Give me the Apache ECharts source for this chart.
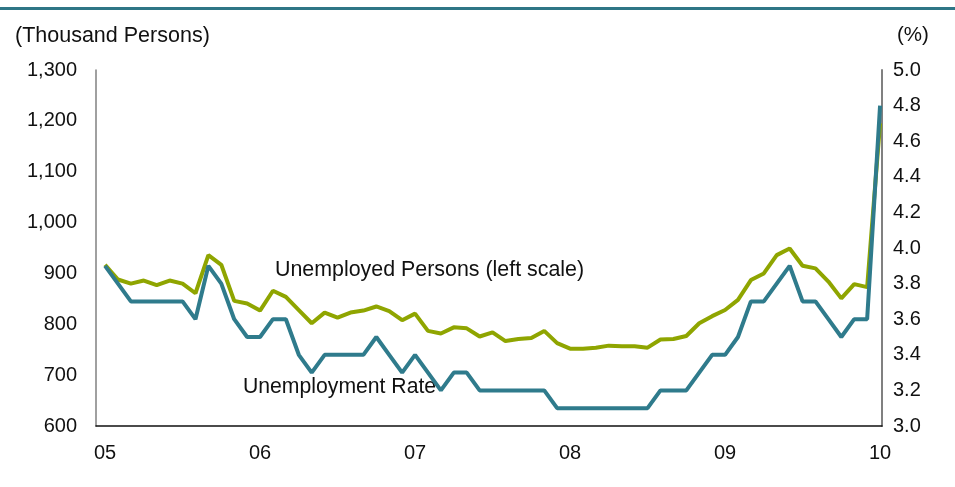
<!DOCTYPE html>
<html>
<head>
<meta charset="utf-8">
<script src="https://cdn.jsdelivr.net/npm/echarts@6/dist/echarts.min.js"></script>
<style>
  html, body { margin: 0; padding: 0; background: #fff; }
  #main { width: 955px; height: 487px; }
</style>
</head>
<body>
<div id="main"></div>
<script>
// monthly data, Jan 2005 - Jan 2010
var yearLabels = ['05', '06', '07', '08', '09', '10'];
var yearTicks = [0, 12, 24, 36, 48, 60];

// unemployed persons (thousand), left scale
var persons = [
    917, 888, 880, 886, 877, 886, 880, 861, 936, 917, 846, 841,
    827, 866, 854, 828, 802, 823, 813, 823, 827, 835, 826, 808,
    821, 787, 782, 794, 792, 776, 784, 767, 771, 773, 787, 763,
    752, 752, 754, 758, 757, 757, 754, 770, 771, 777, 802, 816,
    828, 848, 887, 900, 936, 949, 915, 910, 884, 851, 879, 873,
    1195
];

// unemployment rate (%), right scale
var rate = [
    3.9, 3.8, 3.7, 3.7, 3.7, 3.7, 3.7, 3.6, 3.9, 3.8, 3.6, 3.5,
    3.5, 3.6, 3.6, 3.4, 3.3, 3.4, 3.4, 3.4, 3.4, 3.5, 3.4, 3.3,
    3.4, 3.3, 3.2, 3.3, 3.3, 3.2, 3.2, 3.2, 3.2, 3.2, 3.2, 3.1,
    3.1, 3.1, 3.1, 3.1, 3.1, 3.1, 3.1, 3.2, 3.2, 3.2, 3.3, 3.4,
    3.4, 3.5, 3.7, 3.7, 3.8, 3.9, 3.7, 3.7, 3.6, 3.5, 3.6, 3.6,
    4.8
];

function pairs(arr) {
    return arr.map(function (v, i) { return [i, v]; });
}

var font = 'Liberation Sans, Arial, sans-serif';

var myChart = echarts.init(document.getElementById('main'));
var option = {
    animation: false,
    backgroundColor: '#fff',
    grid: {
        left: 96,
        right: 73,
        top: 70,
        bottom: 61
    },
    graphic: [
        {
            type: 'rect',
            left: 0, top: 7,
            shape: { width: 955, height: 3 },
            style: { fill: '#2f7686' }
        },
        {
            type: 'text', left: 15, top: 25,
            style: { text: '(Thousand Persons)', font: '21.5px ' + font, fill: '#111' }
        },
        {
            type: 'text', left: 897, top: 25,
            style: { text: '(%)', font: '20.5px ' + font, fill: '#111' }
        },
        {
            type: 'text', left: 275, top: 260,
            style: { text: 'Unemployed Persons (left scale)', font: '21.4px ' + font, fill: '#111' }
        },
        {
            type: 'text', left: 243, top: 377,
            style: { text: 'Unemployment Rate', font: '21.2px ' + font, fill: '#111' }
        }
    ],
    xAxis: {
        type: 'value',
        min: -0.7,
        max: 60.15,
        splitLine: { show: false },
        axisTick: { show: false },
        axisLine: { show: true, onZero: false, lineStyle: { color: '#111', width: 1.5 } },
        axisLabel: {
            customValues: yearTicks,
            margin: 17,
            color: '#111',
            fontSize: 20,
            fontFamily: font,
            formatter: function (v) {
                return yearLabels[yearTicks.indexOf(v)];
            }
        }
    },
    yAxis: [
        {
            type: 'value',
            min: 600,
            max: 1300,
            interval: 100,
            splitLine: { show: false },
            axisTick: { show: false },
            axisLine: { show: true, onZero: false, lineStyle: { color: '#808080', width: 1.5 } },
            axisLabel: {
                margin: 19,
                color: '#111',
                fontSize: 20,
                fontFamily: font,
                formatter: function (v) { return v.toLocaleString('en-US'); }
            }
        },
        {
            type: 'value',
            min: 3.0,
            max: 5.0,
            interval: 0.2,
            splitLine: { show: false },
            axisTick: { show: false },
            axisLine: { show: true, onZero: false, lineStyle: { color: '#808080', width: 2 } },
            axisLabel: {
                margin: 11,
                color: '#111',
                fontSize: 20,
                fontFamily: font,
                formatter: function (v) { return v.toFixed(1); }
            }
        }
    ],
    series: [
        {
            name: 'Unemployed Persons (left scale)',
            type: 'line',
            yAxisIndex: 0,
            data: pairs(persons),
            showSymbol: false,
            lineStyle: { color: '#8fa500', width: 4 },
            itemStyle: { color: '#8fa500' }
        },
        {
            name: 'Unemployment Rate',
            type: 'line',
            yAxisIndex: 1,
            data: pairs(rate),
            showSymbol: false,
            lineStyle: { color: '#2f7b8c', width: 4 },
            itemStyle: { color: '#2f7b8c' }
        }
    ]
};
myChart.setOption(option);
</script>
</body>
</html>
